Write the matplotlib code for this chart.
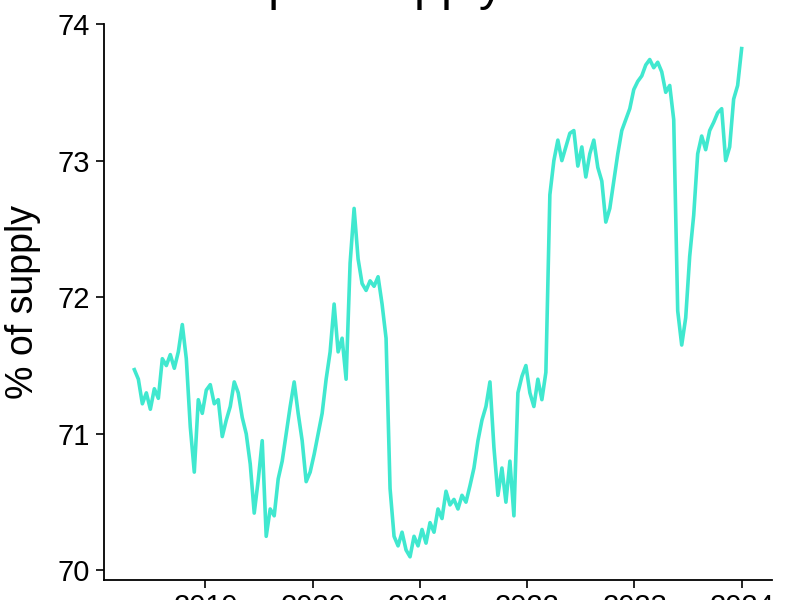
import matplotlib
matplotlib.use("Agg")
import matplotlib.pyplot as plt
import matplotlib.dates as mdates
import pandas as pd

plt.rcParams['font.family'] = ['Liberation Sans', 'DejaVu Sans']

title_text = "Ownership of supply"
y_label = "% of supply"
start_date = "2018-05-04"
end_date = "2024-01-01"
y_ticks = [70, 71, 72, 73, 74]
x_tick_years = [2019, 2020, 2021, 2022, 2023, 2024]

values = [
    71.47, 71.40, 71.22, 71.30, 71.18, 71.33, 71.26, 71.55, 71.50, 71.58,
    71.48, 71.60, 71.80, 71.55, 71.05, 70.72, 71.25, 71.15, 71.32, 71.36,
    71.22, 71.25, 70.98, 71.10, 71.20, 71.38, 71.30, 71.12, 71.00, 70.78,
    70.42, 70.66, 70.95, 70.25, 70.45, 70.40, 70.67, 70.80, 71.00, 71.20,
    71.38, 71.15, 70.95, 70.65, 70.72, 70.85, 71.00, 71.15, 71.40, 71.60,
    71.95, 71.60, 71.70, 71.40, 72.25, 72.65, 72.28, 72.10, 72.05, 72.12,
    72.08, 72.15, 71.95, 71.70, 70.60, 70.25, 70.18, 70.28, 70.15, 70.10,
    70.25, 70.18, 70.30, 70.20, 70.35, 70.28, 70.45, 70.38, 70.58, 70.48,
    70.52, 70.45, 70.55, 70.50, 70.62, 70.75, 70.95, 71.10, 71.20, 71.38,
    70.90, 70.55, 70.75, 70.50, 70.80, 70.40, 71.30, 71.42, 71.50, 71.30,
    71.20, 71.40, 71.25, 71.45, 72.75, 73.00, 73.15, 73.00, 73.10, 73.20,
    73.22, 72.96, 73.10, 72.88, 73.05, 73.15, 72.95, 72.85, 72.55, 72.65,
    72.85, 73.05, 73.22, 73.30, 73.38, 73.52, 73.58, 73.62, 73.70, 73.74,
    73.68, 73.72, 73.65, 73.50, 73.55, 73.30, 71.90, 71.65, 71.85, 72.30,
    72.60, 73.05, 73.18, 73.08, 73.22, 73.28, 73.35, 73.38, 73.00, 73.10,
    73.45, 73.55, 73.82,
]

dates = pd.date_range(start_date, end_date, periods=len(values))

fig = plt.figure(figsize=(8, 6), dpi=100)
ax = fig.add_axes([0.13, 0.0333, 0.835, 0.9267])

ax.plot(dates, values, color="#40E8CF", linewidth=2.6, solid_joinstyle="round")

ax.margins(x=0.05)
ax.set_ylim(69.93, 74.0)
ax.set_yticks(y_ticks)
ax.set_yticklabels([str(t) for t in y_ticks])
ax.set_xticks([pd.Timestamp(f"{y}-01-01") for y in x_tick_years])
ax.xaxis.set_major_formatter(mdates.DateFormatter("%Y"))

for s in ["top", "right"]:
    ax.spines[s].set_visible(False)
for s in ["left", "bottom"]:
    ax.spines[s].set_linewidth(1.3)
    ax.spines[s].set_color("black")

ax.tick_params(axis="both", which="major", length=6, width=1.2, colors="black",
               labelsize=21, direction="out")
ax.tick_params(axis="y", pad=4)
ax.tick_params(axis="x", pad=3)

ax.set_ylabel(y_label, fontsize=27, color="black", labelpad=12)

fig.text(63 / 800, 1 - 0.5 / 600, title_text, fontsize=35, ha="left",
         va="baseline", color="black")

fig.savefig("out.png", dpi=100)
